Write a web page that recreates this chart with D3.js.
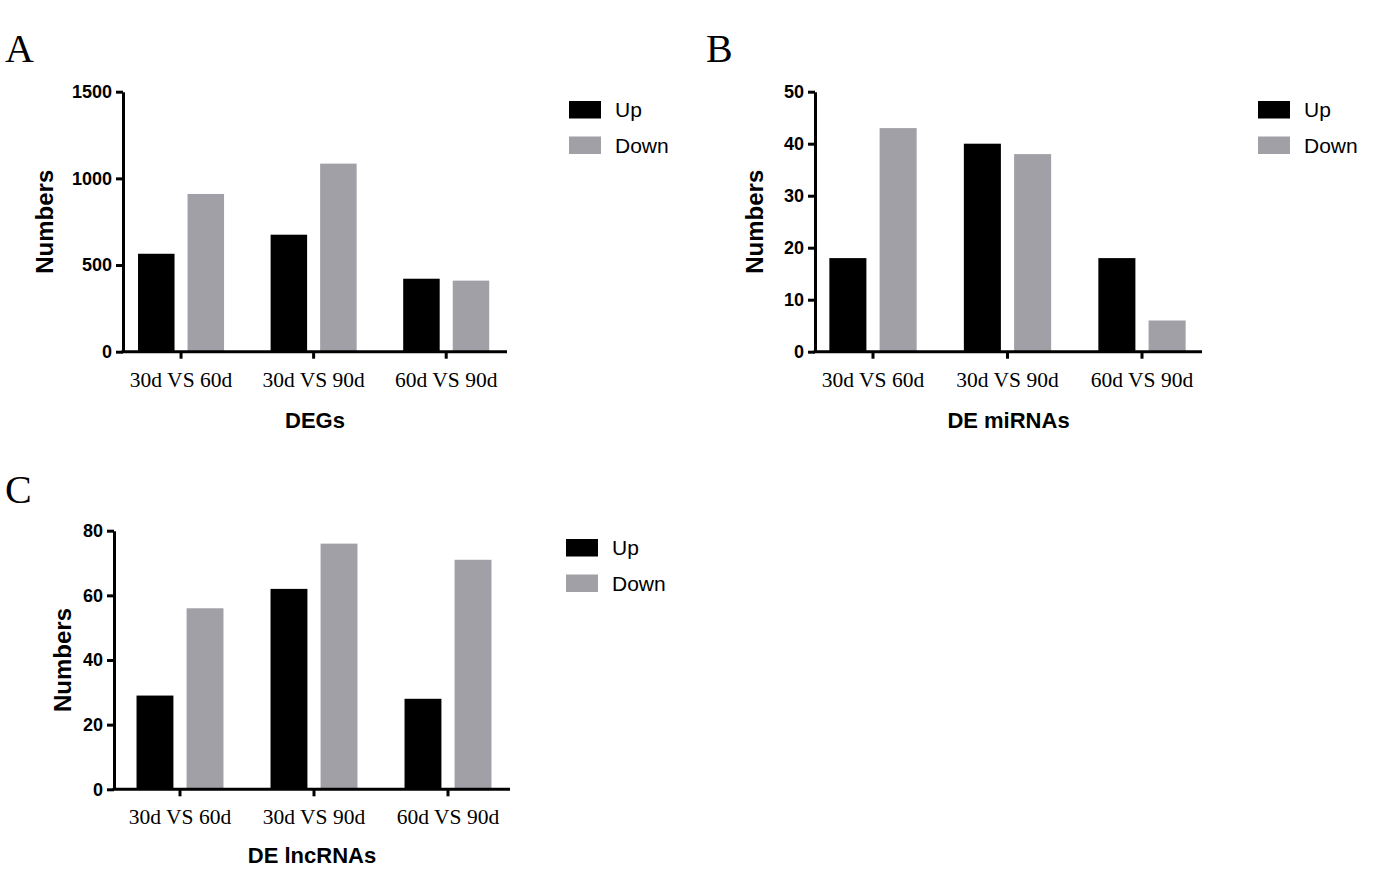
<!DOCTYPE html>
<html>
<head>
<meta charset="utf-8">
<script src="https://cdn.jsdelivr.net/npm/d3@7"></script>
<style>
  body { margin: 0; background: #fff; }
  svg { display: block; }
</style>
</head>
<body>
<div id="chart"></div>
<script>
const comparisons = ["30d VS 60d", "30d VS 90d", "60d VS 90d"];
const seriesNames = ["Up", "Down"];
const seriesColors = ["#000000", "#a0a0a6"];

const degUp = [565, 675, 421];
const degDown = [910, 1085, 410];
const mirnaUp = [18, 40, 18];
const mirnaDown = [43, 38, 6];
const lncUp = [29, 62, 28];
const lncDown = [56, 76, 71];

const degTicks = [0, 500, 1000, 1500];
const mirnaTicks = [0, 10, 20, 30, 40, 50];
const lncTicks = [0, 20, 40, 60, 80];

const panels = [
  { letter: "A", title: "DEGs", up: degUp, down: degDown, ticks: degTicks,
    axisX: 123, right: 507, top: 91.7, bottom: 351.7, bandRange: [114.75, 512.5],
    letterPos: [5, 62], legendPos: [569, 101], yTitleX: 45, titleGap: 76 },
  { letter: "B", title: "DE miRNAs", up: mirnaUp, down: mirnaDown, ticks: mirnaTicks,
    axisX: 815, right: 1202, top: 91.7, bottom: 351.7, bandRange: [805.75, 1209.25],
    letterPos: [706, 62], legendPos: [1258, 101], yTitleX: 755, titleGap: 76 },
  { letter: "C", title: "DE lncRNAs", up: lncUp, down: lncDown, ticks: lncTicks,
    axisX: 114, right: 510, top: 530.7, bottom: 789.3, bandRange: [113, 515],
    letterPos: [5, 503], legendPos: [566, 539], yTitleX: 63, titleGap: 74 }
];

const svg = d3.select("#chart").append("svg")
  .attr("width", 1400)
  .attr("height", 869);

panels.forEach(p => {
  const g = svg.append("g");

  const y = d3.scaleLinear()
    .domain([0, d3.max(p.ticks)])
    .range([p.bottom, p.top]);

  const x = d3.scaleBand()
    .domain(comparisons)
    .range(p.bandRange);

  const xSub = d3.scaleBand()
    .domain(seriesNames)
    .range([0, x.bandwidth()])
    .paddingInner(0.263)
    .paddingOuter(0.47);

  const rows = comparisons.map((c, i) => ({ c, values: [p.up[i], p.down[i]] }));

  // bars
  const grp = g.selectAll("g.grp")
    .data(rows)
    .enter().append("g")
    .attr("class", "grp")
    .attr("transform", d => `translate(${x(d.c)},0)`);

  grp.selectAll("rect")
    .data(d => d.values.map((v, j) => ({ name: seriesNames[j], v, j })))
    .enter().append("rect")
    .attr("x", d => xSub(d.name))
    .attr("width", xSub.bandwidth())
    .attr("y", d => y(d.v))
    .attr("height", d => p.bottom - y(d.v))
    .attr("fill", d => seriesColors[d.j]);

  // y axis
  const yAxis = g.append("g")
    .attr("transform", `translate(${p.axisX},0)`)
    .call(d3.axisLeft(y).tickValues(p.ticks).tickFormat(d3.format("d"))
      .tickSize(7).tickSizeOuter(0).tickPadding(4));
  yAxis.select(".domain").attr("stroke-width", 3).attr("stroke", "#000");
  yAxis.selectAll(".tick line").attr("stroke-width", 3).attr("stroke", "#000");
  yAxis.selectAll(".tick text")
    .attr("font-family", "Liberation Sans, Arial, sans-serif")
    .attr("font-weight", "bold")
    .attr("font-size", "18px")
    .attr("fill", "#000");

  // x axis
  const xAxis = g.append("g")
    .attr("transform", `translate(0,${p.bottom})`)
    .call(d3.axisBottom(x).tickSize(7).tickSizeOuter(0));
  xAxis.select(".domain").remove();
  xAxis.selectAll(".tick line").attr("stroke-width", 3).attr("stroke", "#000");
  xAxis.selectAll(".tick text")
    .attr("y", 35)
    .attr("dy", 0)
    .attr("font-family", "Liberation Serif, Times New Roman, serif")
    .attr("font-size", "21.5px")
    .attr("fill", "#000");
  xAxis.append("line")
    .attr("x1", p.axisX - 1.5)
    .attr("x2", p.right)
    .attr("stroke", "#000")
    .attr("stroke-width", 3);

  // axis titles
  g.append("text")
    .attr("transform", `translate(${p.yTitleX + 8},${(p.top + p.bottom) / 2}) rotate(-90)`)
    .attr("text-anchor", "middle")
    .attr("font-family", "Liberation Sans, Arial, sans-serif")
    .attr("font-weight", "bold")
    .attr("font-size", "24px")
    .text("Numbers");

  g.append("text")
    .attr("x", (p.axisX + p.right) / 2)
    .attr("y", p.bottom + p.titleGap)
    .attr("text-anchor", "middle")
    .attr("font-family", "Liberation Sans, Arial, sans-serif")
    .attr("font-weight", "bold")
    .attr("font-size", "22px")
    .text(p.title);

  // panel letter
  g.append("text")
    .attr("x", p.letterPos[0])
    .attr("y", p.letterPos[1])
    .attr("font-family", "Liberation Serif, Times New Roman, serif")
    .attr("font-size", "40px")
    .text(p.letter);

  // legend
  const leg = g.selectAll("g.leg")
    .data(seriesNames)
    .enter().append("g")
    .attr("class", "leg")
    .attr("transform", (d, i) => `translate(${p.legendPos[0]},${p.legendPos[1] + i * 35.5})`);
  leg.append("rect")
    .attr("width", 32)
    .attr("height", 17.5)
    .attr("fill", (d, i) => seriesColors[i]);
  leg.append("text")
    .attr("x", 46)
    .attr("y", 16)
    .attr("font-family", "Liberation Sans, Arial, sans-serif")
    .attr("font-size", "21px")
    .text(d => d);
});
</script>
</body>
</html>
